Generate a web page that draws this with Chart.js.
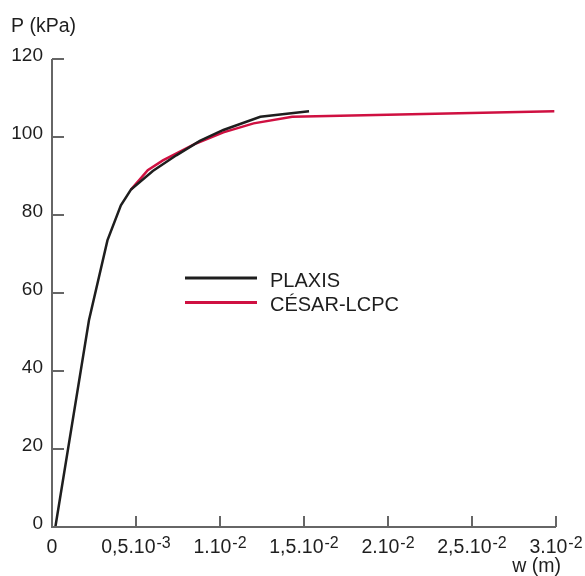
<!DOCTYPE html>
<html>
<head>
<meta charset="utf-8">
<script src="https://cdn.jsdelivr.net/npm/chart.js@4.4.0/dist/chart.umd.min.js"></script>
<style>
  html, body { margin: 0; padding: 0; background: #fff; }
  #wrap { width: 585px; height: 576px; }
</style>
</head>
<body>
<div id="wrap"><canvas id="myChart" width="585" height="576"></canvas></div>
<script>
// courbes charge / tassement
let plaxisW = [0.0002, 0.0022, 0.0033, 0.0041, 0.0047, 0.0060, 0.0074, 0.0088, 0.0102, 0.0124, 0.0153];
let plaxisP = [0, 53, 73.5, 82.5, 86.5, 91.3, 95.3, 99, 101.8, 105.2, 106.6];

let cesarW = [0.0047, 0.0057, 0.0066, 0.0086, 0.0102, 0.0120, 0.0143, 0.0299];
let cesarP = [86.5, 91.5, 94, 98.4, 101.2, 103.5, 105.2, 106.6];

let seriesLabels = ['PLAXIS', 'CÉSAR-LCPC'];

// graduations
let xTicks = [0, 0.005, 0.01, 0.015, 0.02, 0.025, 0.03];
let xTickBase = ['0', '0,5.10', '1.10', '1,5.10', '2.10', '2,5.10', '3.10'];
let xTickExp = ['', '-3', '-2', '-2', '-2', '-2', '-2'];
let yTicks = [0, 20, 40, 60, 80, 100, 120];

function toPoints(xs, ys) {
    let pts = [];
    for (let i = 0; i < xs.length; i++) pts.push({ x: xs[i], y: ys[i] });
    return pts;
}

let FONT = '"Liberation Sans", Arial, Helvetica, sans-serif';
let axisColor = '#666666';

// axes, graduations et légende dessinés à la main
let axesPlugin = {
    id: 'axesPlugin',
    afterDatasetsDraw: function(chart) {
        let ctx = chart.ctx;
        let xs = chart.scales.x;
        let ys = chart.scales.y;
        let x0 = xs.getPixelForValue(0);
        let y0 = ys.getPixelForValue(0);
        let xEnd = xs.getPixelForValue(0.03);
        let yTop = ys.getPixelForValue(120);

        ctx.save();
        ctx.strokeStyle = axisColor;
        ctx.lineWidth = 2;
        ctx.beginPath();
        ctx.moveTo(x0, yTop);
        ctx.lineTo(x0, y0);
        ctx.lineTo(xEnd, y0);
        ctx.stroke();

        // graduations Y (vers l'intérieur)
        ctx.fillStyle = '#1e1e1e';
        ctx.font = '19px ' + FONT;
        ctx.textAlign = 'right';
        ctx.textBaseline = 'alphabetic';
        yTicks.forEach(function(v) {
            let py = ys.getPixelForValue(v);
            if (v !== 0) {
                ctx.beginPath();
                ctx.moveTo(x0, py);
                ctx.lineTo(x0 + 12, py);
                ctx.stroke();
            }
            ctx.fillText(String(v), 43, py + 1.5);
        });

        // graduations X
        xTicks.forEach(function(v, i) {
            let px = xs.getPixelForValue(v);
            if (v !== 0) {
                ctx.beginPath();
                ctx.moveTo(px, y0);
                ctx.lineTo(px, y0 - 11);
                ctx.stroke();
            }
            ctx.font = '19.5px ' + FONT;
            let wBase = ctx.measureText(xTickBase[i]).width;
            ctx.font = '16px ' + FONT;
            let wExp = ctx.measureText(xTickExp[i]).width;
            let gap = xTickExp[i] ? 1 : 0;
            let start = px - (wBase + gap + wExp) / 2;
            ctx.textAlign = 'left';
            ctx.font = '19.5px ' + FONT;
            ctx.fillText(xTickBase[i], start, 553);
            ctx.font = '16px ' + FONT;
            ctx.fillText(xTickExp[i], start + wBase + gap, 548);
        });

        // titres des axes
        ctx.font = '19.5px ' + FONT;
        ctx.textAlign = 'left';
        ctx.fillText('P (kPa)', 11, 32);
        ctx.textAlign = 'right';
        ctx.fillText('w (m)', 561, 572);

        // légende
        ctx.font = '20px ' + FONT;
        ctx.textAlign = 'left';
        chart.data.datasets.forEach(function(ds, i) {
            let ly = 278 + i * 24.5;
            ctx.strokeStyle = ds.borderColor;
            ctx.lineWidth = 3;
            ctx.beginPath();
            ctx.moveTo(185, ly);
            ctx.lineTo(257, ly);
            ctx.stroke();
            ctx.fillStyle = '#1e1e1e';
            ctx.fillText(ds.label, 270, ly + 8.5);
        });
        ctx.restore();
    }
};

let ctx = document.getElementById('myChart').getContext('2d');
let myChart = new Chart(ctx, {
    type: 'line',
    data: {
        datasets: [{
            label: seriesLabels[0],
            data: toPoints(plaxisW, plaxisP),
            borderColor: '#1e1e1e',
            borderWidth: 2.5,
            pointRadius: 0,
            tension: 0,
            fill: false,
            clip: false
        }, {
            label: seriesLabels[1],
            data: toPoints(cesarW, cesarP),
            borderColor: '#cf1041',
            borderWidth: 2.5,
            pointRadius: 0,
            tension: 0,
            fill: false,
            clip: false
        }]
    },
    options: {
        responsive: false,
        animation: false,
        layout: { padding: { left: 52, right: 29, top: 59, bottom: 49 } },
        plugins: {
            legend: { display: false },
            tooltip: { enabled: false }
        },
        scales: {
            x: { type: 'linear', min: 0, max: 0.03, display: false },
            y: { type: 'linear', min: 0, max: 120, display: false }
        }
    },
    plugins: [axesPlugin]
});
</script>
</body>
</html>
